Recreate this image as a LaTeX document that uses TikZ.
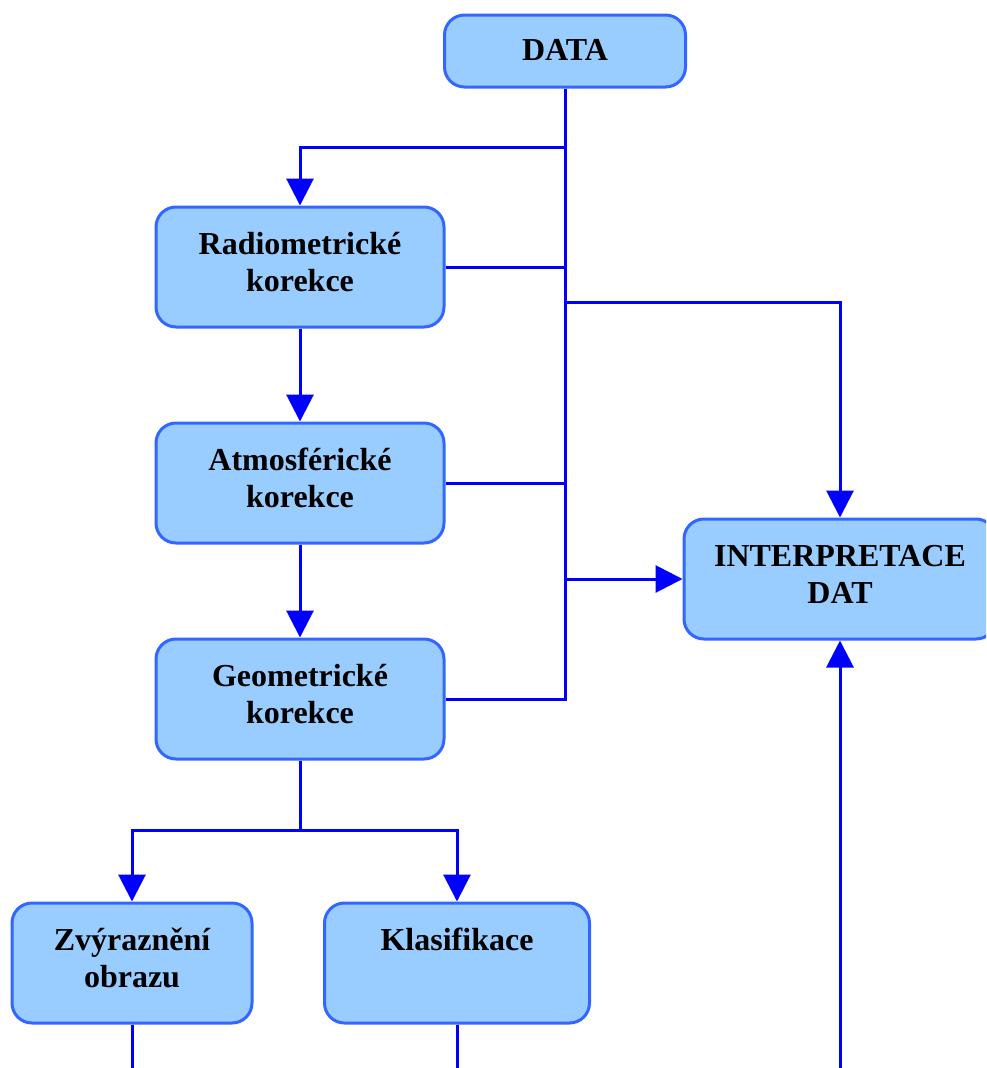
\documentclass[tikz,border=0pt]{standalone}
\usepackage{fontspec}
\setmainfont{Liberation Serif}
\usepackage{xcolor}
\usetikzlibrary{arrows.meta,positioning}

\definecolor{boxfill}{HTML}{99CCFF}
\definecolor{boxline}{HTML}{3366FF}
\definecolor{flowblue}{HTML}{0000FF}

\begin{document}
\begin{tikzpicture}[x=1pt,y=-1pt,
  stage/.style={draw=boxline, fill=boxfill, line width=3pt, rounded corners=20pt,
    align=center, inner sep=0pt, text depth=10pt,
    font=\bfseries\fontsize{32}{37}\selectfont},
  flow/.style={draw=flowblue, line width=3pt},
  flowarrow/.style={flow, -{Triangle[length=27pt,width=27pt]}}]

  \useasboundingbox (0,0) rectangle (986,1068);
  \clip (0,0) rectangle (986,1068);

  \node[stage, text depth=3pt, minimum width=241pt, minimum height=72pt] (data) at (565,51) {DATA};
  \node[stage, minimum width=288pt, minimum height=120pt] (radio) at (300,267) {Radiometrické\\korekce};
  \node[stage, minimum width=288pt, minimum height=120pt] (atmo) at (300,483) {Atmosférické\\korekce};
  \node[stage, minimum width=288pt, minimum height=120pt] (geom) at (300,699) {Geometrické\\korekce};
  \node[stage, minimum width=240pt, minimum height=120pt] (zvyr) at (132,963) {Zvýraznění\\obrazu};
  \node[stage, minimum width=265pt, minimum height=120pt] (klas) at (457,963) {Klasifikace\\\mbox{}};
  \node[stage, minimum width=312pt, minimum height=120pt] (interp) at (840,579) {INTERPRETACE\\DAT};

  \coordinate (split) at (565,147);
  \coordinate (tapup) at (565,302);
  \coordinate (trunkend) at (565,699);
  \coordinate (fork) at (300,830);
  \coordinate (outzvyr) at (132,1068);
  \coordinate (outklas) at (457,1068);
  \coordinate (ininterp) at (840,1068);

  % trunk from DATA
  \draw[flow] (data.south) -- (trunkend) -- (geom.east);
  \draw[flowarrow] (split) -| (radio.north);
  \draw[flow] (radio.east) -- (radio.east -| split);
  \draw[flow] (atmo.east) -- (atmo.east -| split);
  \draw[flowarrow] (tapup) -| (interp.north);
  \draw[flowarrow] (interp.west -| split) -- (interp.west);

  \draw[flowarrow] (radio) -- (atmo);
  \draw[flowarrow] (atmo) -- (geom);
  \draw[flow] (geom) -- (fork);
  \draw[flowarrow] (fork) -| (zvyr.north);
  \draw[flowarrow] (fork) -| (klas.north);

  \draw[flow] (zvyr) -- (outzvyr);
  \draw[flow] (klas) -- (outklas);
  \draw[flowarrow] (ininterp) -- (interp);

\end{tikzpicture}
\end{document}
